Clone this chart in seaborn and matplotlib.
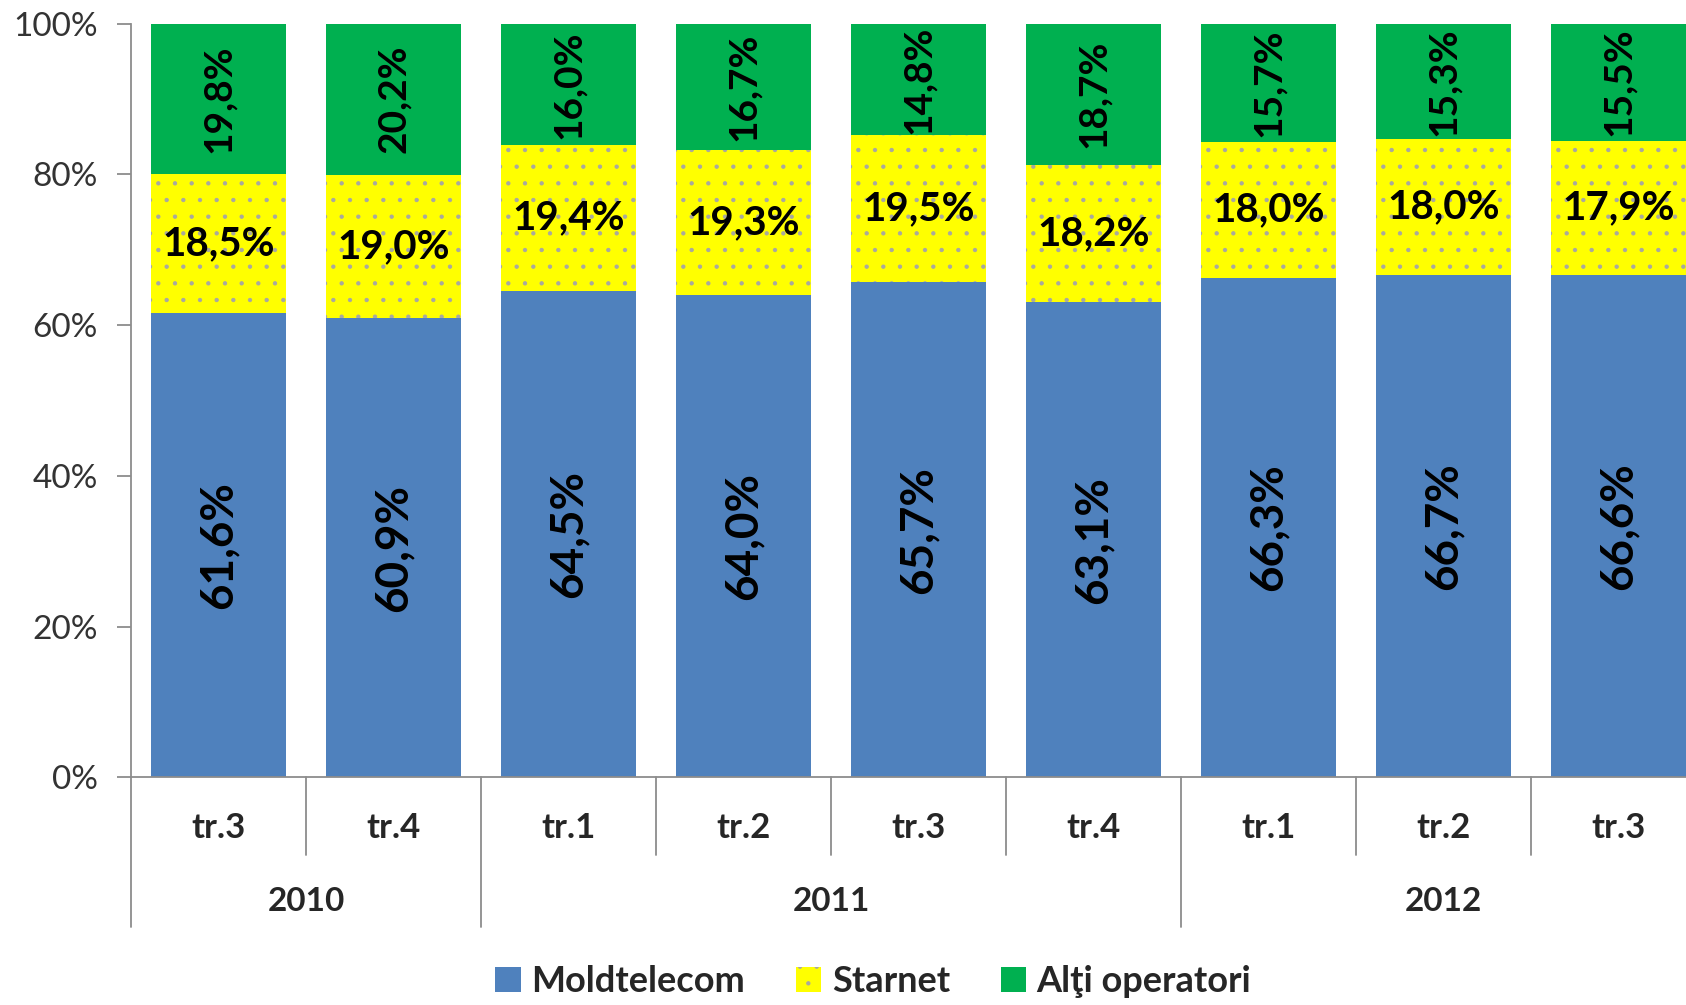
import numpy as np
import pandas as pd
import matplotlib
matplotlib.use("Agg")
import matplotlib.pyplot as plt
import matplotlib.transforms as mtransforms
from matplotlib.patches import Patch
import seaborn as sns

# ---------- datos ----------
trimestre = ["tr.3", "tr.4", "tr.1", "tr.2", "tr.3", "tr.4", "tr.1", "tr.2", "tr.3"]
anii = ["2010", "2010", "2011", "2011", "2011", "2011", "2012", "2012", "2012"]
moldtelecom = [61.6, 60.9, 64.5, 64.0, 65.7, 63.1, 66.3, 66.7, 66.6]
starnet = [18.5, 19.0, 19.4, 19.3, 19.5, 18.2, 18.0, 18.0, 17.9]
alti = [19.8, 20.2, 16.0, 16.7, 14.8, 18.7, 15.7, 15.3, 15.5]

culori = {"Moldtelecom": "#4F81BD", "Starnet": "#FFFF00", "Alţi operatori": "#00B050"}

df = pd.DataFrame({
    "id": [f"{a} {t}" for a, t in zip(anii, trimestre)],
    "tr": trimestre,
    "an": anii,
    "Moldtelecom": moldtelecom,
    "Starnet": starnet,
    "Alti": alti,
})
df["cum1"] = df["Moldtelecom"]
df["cum2"] = df["Moldtelecom"] + df["Starnet"]
df["cum3"] = df["cum2"] + df["Alti"]

sns.set_style("white")
plt.rcParams["font.family"] = ["Lato", "DejaVu Sans"]
plt.rcParams["hatch.linewidth"] = 0.7

fig = plt.figure(figsize=(16.86, 10.05), dpi=100)
ax = fig.add_axes([0.0777, 0.2264, 0.9223, 0.7500])

w = 0.77
orden = list(df["id"])
sns.barplot(data=df, x="id", y="cum3", order=orden, color=culori["Alţi operatori"],
            saturation=1, width=w, errorbar=None, linewidth=0, ax=ax)
sns.barplot(data=df, x="id", y="cum2", order=orden, color=culori["Starnet"],
            saturation=1, width=w, errorbar=None, linewidth=0, hatch=".",
            edgecolor="#a8a8a0", ax=ax)
sns.barplot(data=df, x="id", y="cum1", order=orden, color=culori["Moldtelecom"],
            saturation=1, width=w, errorbar=None, linewidth=0, ax=ax)

# etiquetas de datos
fmt = lambda v: f"{v:.1f}".replace(".", ",") + "%"
for i, r in df.iterrows():
    ax.text(i, r["cum1"] / 2, fmt(r["Moldtelecom"]), rotation=90, ha="center", va="center",
            fontsize=33, fontweight="bold", color="black")
    ax.text(i, (r["cum1"] + r["cum2"]) / 2, fmt(r["Starnet"]), ha="center", va="center",
            fontsize=29, fontweight="bold", color="black")
    ax.text(i, (r["cum2"] + r["cum3"]) / 2, fmt(r["Alti"]), rotation=90, ha="center", va="center",
            fontsize=28, fontweight="bold", color="black")

ax.set_ylim(0, 100)
ax.set_xlim(-0.5, len(df) - 1 + w / 2)
ax.set_yticks(range(0, 101, 20))
ax.set_yticklabels([f"{v}%" for v in range(0, 101, 20)], fontsize=24, color="#333333")
ax.set_xticks([])
ax.set_xlabel("")
ax.set_ylabel("")
for s in ["top", "right"]:
    ax.spines[s].set_visible(False)
for s in ["left", "bottom"]:
    ax.spines[s].set_color("#8c8c8c")
    ax.spines[s].set_linewidth(1.3)
ax.tick_params(axis="y", direction="out", length=10, width=1.3, color="#8c8c8c", pad=14, left=True)

# eje de categorías en dos niveles
trans = mtransforms.blended_transform_factory(ax.transData, ax.transAxes)
for i, t in enumerate(trimestre):
    ax.text(i, -0.067, t, transform=trans, ha="center", va="center",
            fontsize=25, fontweight="bold", clip_on=False)

limite = [-0.5]
for i in range(1, len(anii)):
    if anii[i] != anii[i - 1]:
        limite.append(i - 0.5)
for x in np.arange(-0.5, len(df) - 0.5, 1.0):
    jos = -0.198 if x in limite else -0.103
    ax.plot([x, x], [0, jos], transform=trans, color="#8c8c8c", lw=1.3, clip_on=False)

ani_unici = list(dict.fromkeys(anii))
for a in ani_unici:
    idx = [i for i, v in enumerate(anii) if v == a]
    ax.text(np.mean(idx), -0.164, a, transform=trans, ha="center", va="center",
            fontsize=24, fontweight="bold", clip_on=False)

# leyenda
handles = [
    Patch(facecolor=culori["Moldtelecom"], edgecolor="none", label="Moldtelecom"),
    Patch(facecolor=culori["Starnet"], edgecolor="#a8a8a0", linewidth=0, hatch=".", label="Starnet"),
    Patch(facecolor=culori["Alţi operatori"], edgecolor="none", label="Alţi operatori"),
]
leg = fig.legend(handles=handles, loc="center", bbox_to_anchor=(0.518, 0.023), ncol=3,
                 frameon=False, handlelength=0.7, handleheight=0.7, handletextpad=0.3,
                 columnspacing=1.4, prop={"size": 26, "weight": "bold"})

fig.savefig("out.png", dpi=100)
